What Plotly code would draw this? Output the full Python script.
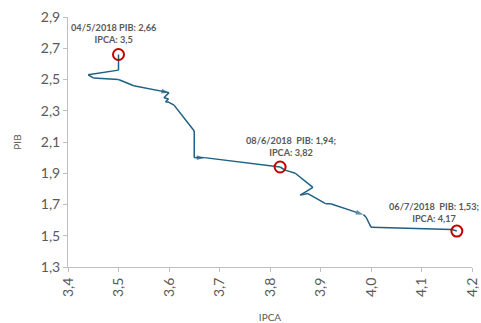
import plotly.graph_objects as go

# IPCA (x) and PIB (y) expectations path, May–July 2018
ipca = [3.50, 3.50, 3.44, 3.45, 3.50, 3.53, 3.60, 3.59, 3.599, 3.593, 3.60, 3.61,
        3.65, 3.65, 3.67, 3.82, 3.83, 3.85, 3.885, 3.86, 3.875, 3.91, 3.92,
        3.985, 3.99, 4.00, 4.16, 4.17]
pib = [2.66, 2.56, 2.53, 2.51, 2.50, 2.46, 2.416, 2.383, 2.375, 2.358, 2.354, 2.336,
       2.17, 2.00, 2.00, 1.94, 1.92, 1.90, 1.81, 1.76, 1.77, 1.705, 1.705,
       1.635, 1.62, 1.555, 1.54, 1.53]

# highlighted dates
hl_dates = ["04/5/2018", "08/6/2018", "06/7/2018"]
hl_ipca = [3.50, 3.82, 4.17]
hl_pib = [2.66, 1.94, 1.53]

x_ticks = [3.4, 3.5, 3.6, 3.7, 3.8, 3.9, 4.0, 4.1, 4.2]
y_ticks = [1.3, 1.5, 1.7, 1.9, 2.1, 2.3, 2.5, 2.7, 2.9]

LINE = "#1F5F83"
GRAY = "#595959"
AXIS = "#BFBFBF"
FONT = "Lato, 'Liberation Sans', sans-serif"

arrow_idx = {6, 14, 23}
sizes = [8 if i in arrow_idx else 0 for i in range(len(ipca))]

fig = go.Figure()
fig.add_trace(go.Scatter(
    x=ipca, y=pib, mode="lines+markers",
    line=dict(color=LINE, width=1.5),
    marker=dict(symbol="arrow", angleref="previous", size=sizes, color=LINE,
                line=dict(width=0)),
    hoverinfo="skip", showlegend=False,
))
fig.add_trace(go.Scatter(
    x=hl_ipca, y=hl_pib, mode="markers",
    marker=dict(symbol="circle-open", size=11, color="#C00000",
                line=dict(width=2, color="#C00000")),
    showlegend=False,
))


def fmt(v):
    s = f"{v:.2f}".rstrip("0").rstrip(".")
    return s.replace(".", ",")


shifts = [(-5, 21), (11, 21), (-23, 19)]
for i, (d, xv, yv) in enumerate(zip(hl_dates, hl_ipca, hl_pib)):
    sep = " PIB: " if i == 0 else "  PIB: "
    end = "" if i == 0 else ";"
    txt = f"<b>{d}{sep}{fmt(yv)}{end}<br>IPCA: {fmt(xv)}</b>"
    fig.add_annotation(
        x=xv, y=yv, text=txt, showarrow=False,
        xshift=shifts[i][0], yshift=shifts[i][1],
        font=dict(family=FONT, size=9.2, color=GRAY),
        align="center",
    )

fig.update_layout(
    width=481, height=323,
    margin=dict(l=68, r=9, t=17, b=56, autoexpand=False),
    paper_bgcolor="white", plot_bgcolor="white",
    separators=", ",
    font=dict(family=FONT, color=GRAY),
    xaxis=dict(
        range=[3.4, 4.2], tickvals=x_ticks,
        ticktext=[f"{v:.1f}".replace(".", ",") for v in x_ticks],
        tickangle=-90, tickfont=dict(size=14, color=GRAY),
        ticklabeloverflow="allow", automargin=False,
        showgrid=False, zeroline=False,
        showline=True, linecolor=AXIS, linewidth=1,
        ticks="outside", ticklen=4, tickcolor=AXIS,
        title=dict(text="IPCA", font=dict(size=10, color=GRAY), standoff=17),
    ),
    yaxis=dict(
        range=[1.3, 2.9], tickvals=y_ticks,
        ticktext=[f"{v:.1f}".replace(".", ",") for v in y_ticks],
        tickfont=dict(size=14, color=GRAY), automargin=False,
        showgrid=False, zeroline=False,
        showline=True, linecolor=AXIS, linewidth=1,
        ticks="outside", ticklen=4, tickcolor=AXIS,
        title=dict(text="PIB", font=dict(size=10, color=GRAY), standoff=17),
    ),
)

fig.write_html("out.html")
